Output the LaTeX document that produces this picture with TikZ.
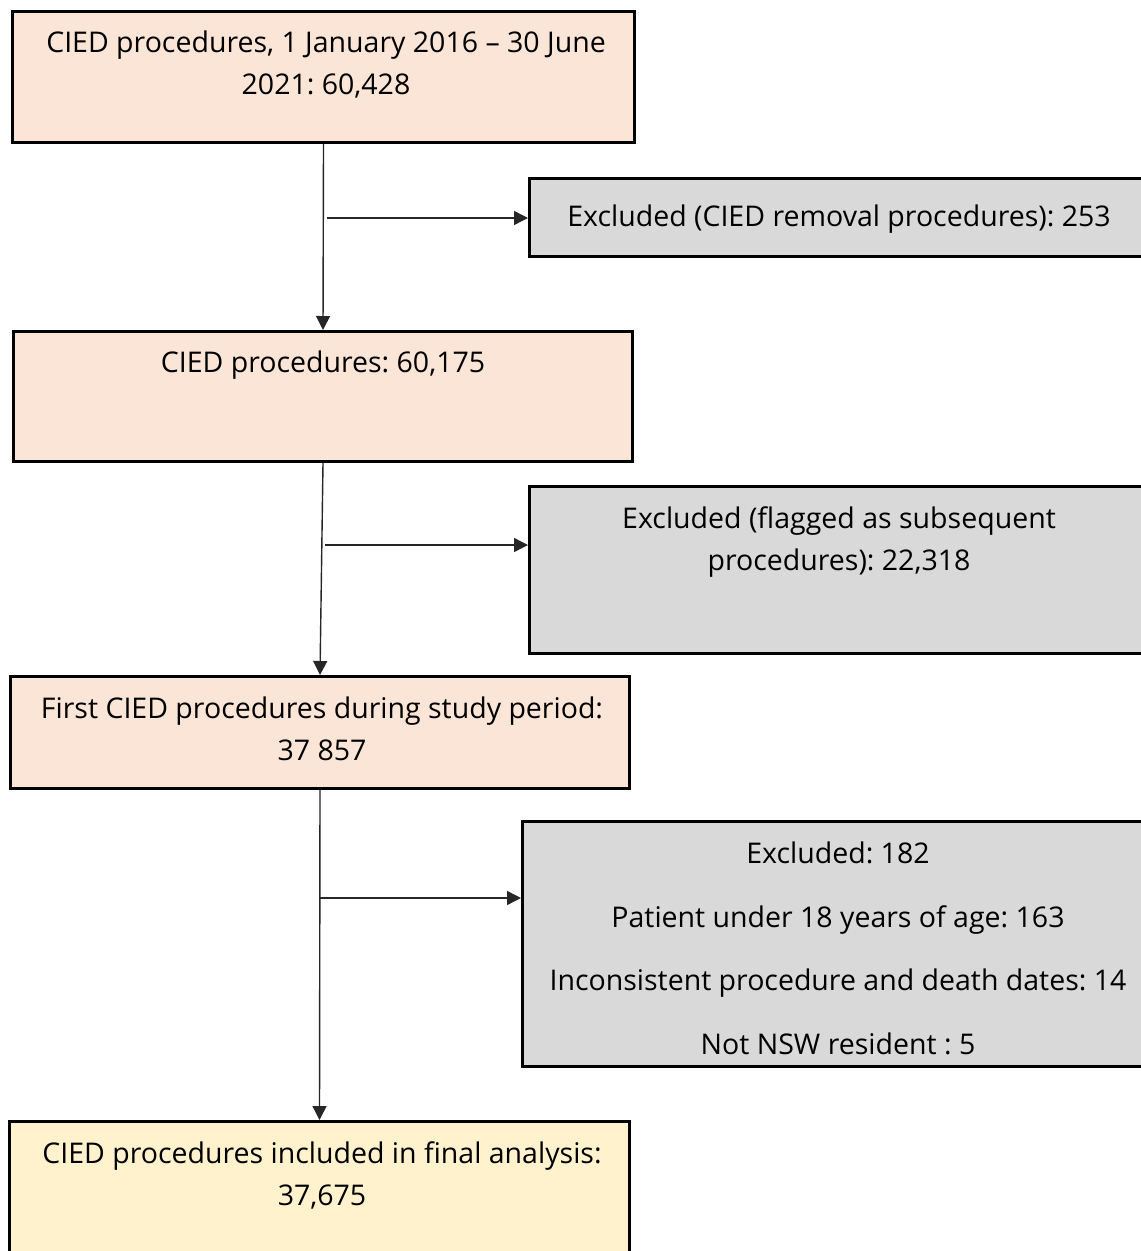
\documentclass[tikz,border=0pt]{standalone}
\usepackage{fontspec}
\setmainfont{Open Sans}
\frenchspacing
\usetikzlibrary{arrows.meta}
\usetikzlibrary{positioning}
\definecolor{peach}{RGB}{251,229,214}
\definecolor{exclgray}{RGB}{217,217,217}
\definecolor{finalyellow}{RGB}{255,242,204}

\begin{document}
\begin{tikzpicture}[x=1pt,y=-1pt,
  box/.style={draw=black, line width=3pt, inner sep=0pt},
  boxtext/.style={anchor=north, inner sep=0pt, align=center, font=\fontsize{28.5}{42}\selectfont},
  flow/.style={draw=black!85, line width=1.4pt, -{Triangle[length=14pt,width=14pt]}}]
\useasboundingbox (0,0) rectangle (1141,1251);
\clip (0,0) rectangle (1141,1251);

%Shape: Rectangle [main column]
\node [box, fill=peach, minimum width=622, minimum height=131] (cied) at (323.5,77) {};
\node [box, fill=peach, minimum width=619, minimum height=130] (pool) at (323,396.5) {};
\node [box, fill=peach, minimum width=619, minimum height=112] (first) at (320,732.5) {};
\node [box, fill=finalyellow, minimum width=620, minimum height=177] (final) at (319.5,1210) {};
%Shape: Rectangle [exclusions]
\node [box, fill=exclgray, minimum width=619, minimum height=78] (removal) at (839,217.5) {};
\node [box, fill=exclgray, minimum width=619, minimum height=167] (subseq) at (839,570) {};
\node [box, fill=exclgray, minimum width=626, minimum height=245] (other) at (835.5,944) {};

% Text Node
\node [boxtext] (ciedtxt) at (326,31) {CIED procedures, 1 January 2016 -- 30 June\\2021: 60,428};
% Text Node
\node [boxtext] (pooltxt) at (323,351) {CIED procedures: 60,175};
% Text Node
\node [boxtext] (firsttxt) at (322,697) {First CIED procedures during study period:\\37 857};
% Text Node
\node [boxtext] (finaltxt) at (322,1141) {CIED procedures included in final analysis:\\37,675};
% Text Node
\node [boxtext] (removaltxt) at (839,205) {Excluded (CIED removal procedures): 253};
% Text Node
\node [boxtext] (subseqtxt) at (839,506) {Excluded (flagged as subsequent\\procedures): 22,318};
% Text Node
\node [boxtext, font=\fontsize{28.5}{63.5}\selectfont] (othertxt) at (838,842) {Excluded: 182\\Patient under 18 years of age: 163\\Inconsistent procedure and death dates: 14\\Not NSW resident : 5};

%Straight Lines
\draw [flow] (cied.south) -- (pool.north);
\draw [flow] (pool.south) -- (first.north);
\draw [flow] (first.south) -- (final.north);

%Straight Lines [branches]
\coordinate (split1) at (327,218);
\coordinate (split2) at (325,545);
\coordinate (split3) at (320,898);
\draw [flow] (split1) -- (removal.west |- split1);
\draw [flow] (split2) -- (subseq.west |- split2);
\draw [flow] (split3) -- (other.west |- split3);

\end{tikzpicture}
\end{document}
